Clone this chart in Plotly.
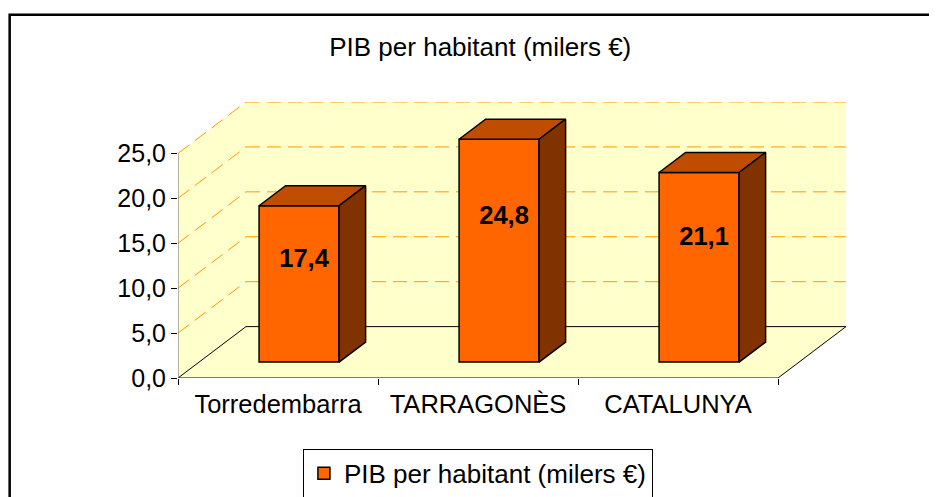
import plotly.graph_objects as go

CATEGORIES = ["Torredembarra", "TARRAGONÈS", "CATALUNYA"]
VALUES = [17.4, 24.8, 21.1]
Y_TICKS = [0, 5, 10, 15, 20, 25]
Y_TICK_TEXT = ["0,0", "5,0", "10,0", "15,0", "20,0", "25,0"]
SERIES_NAME = "PIB per habitant (milers €)"

FONT = "Arial, Liberation Sans, sans-serif"
COLOR_FRONT = "#FF6600"
COLOR_TOP = "#C04C00"
COLOR_SIDE = "#803300"
COLOR_WALL = "#FFFFCC"
COLOR_GRID = "#FF9900"

# depth of the 3D box, in axis units (x: categories, y: values)
DX = 0.34
DY = 5.72
Y_MAX = Y_TICKS[-1]
N = len(CATEGORIES)
BAR_W = 0.4
F_FRONT = 0.31   # bars start at this fraction of depth
F_BACK = 0.70
LABEL_FRAC = 0.65


def fmt(v):
    return f"{v:.1f}".replace(".", ",")


fig = go.Figure()

# walls and floor
shapes = [
    dict(type="rect", x0=DX, x1=N + DX, y0=DY, y1=Y_MAX + DY,
         fillcolor=COLOR_WALL, line_width=0, layer="below"),
    dict(type="path", path=f"M 0 0 L 0 {Y_MAX} L {DX} {Y_MAX + DY} L {DX} {DY} Z",
         fillcolor=COLOR_WALL, line_width=0, layer="below"),
    dict(type="path", path=f"M 0 0 L {N} 0 L {N + DX} {DY} L {DX} {DY} Z",
         fillcolor=COLOR_WALL, line_width=0, layer="below"),
]
for v in Y_TICKS[1:]:
    grid = dict(color=COLOR_GRID, width=1, dash="14px,7px")
    shapes.append(dict(type="line", x0=DX, x1=N + DX, y0=v + DY, y1=v + DY, line=grid, layer="below"))
    shapes.append(dict(type="line", x0=0, x1=DX, y0=v, y1=v + DY, line=grid, layer="below"))
edge = dict(color="black", width=1)
shapes += [
    dict(type="line", x0=DX, x1=N + DX, y0=DY, y1=DY, line=edge, layer="below"),
    dict(type="line", x0=0, x1=DX, y0=0, y1=DY, line=edge, layer="below"),
    dict(type="line", x0=N, x1=N + DX, y0=0, y1=DY, line=edge, layer="below"),
    dict(type="line", x0=0, x1=N, y0=0, y1=0, line=dict(color="black", width=1.2)),
    dict(type="line", x0=0, x1=0, y0=0, y1=Y_MAX, line=dict(color="#808080", width=1.2)),
    # chart frame
    dict(type="rect", xref="paper", yref="paper", x0=-0.252, x1=1.15, y0=-0.5, y1=1.316,
         line=dict(color="black", width=2.5)),
]

# bar front faces
xc = [i + 0.5 + F_FRONT * DX for i in range(N)]
base = F_FRONT * DY
fig.add_trace(go.Bar(
    x=xc, y=VALUES, base=base, width=BAR_W, name=SERIES_NAME,
    marker=dict(color=COLOR_FRONT, line=dict(color="black", width=1.5)),
    hoverinfo="skip",
))

# top and side faces
ddx = (F_BACK - F_FRONT) * DX
ddy = (F_BACK - F_FRONT) * DY
top_x, top_y, side_x, side_y = [], [], [], []
for x, v in zip(xc, VALUES):
    x0, x1 = x - BAR_W / 2, x + BAR_W / 2
    h = base + v
    top_x += [x0, x1, x1 + ddx, x0 + ddx, x0, None]
    top_y += [h, h, h + ddy, h + ddy, h, None]
    side_x += [x1, x1, x1 + ddx, x1 + ddx, x1, None]
    side_y += [base, h, h + ddy, base + ddy, base, None]
fig.add_trace(go.Scatter(x=top_x, y=top_y, mode="lines", fill="toself", fillcolor=COLOR_TOP,
                         line=dict(color="black", width=1.5), showlegend=False, hoverinfo="skip"))
fig.add_trace(go.Scatter(x=side_x, y=side_y, mode="lines", fill="toself", fillcolor=COLOR_SIDE,
                         line=dict(color="black", width=1.5), showlegend=False, hoverinfo="skip"))

# value labels
fig.add_trace(go.Scatter(
    x=[x + 0.025 for x in xc], y=[base + LABEL_FRAC * v for v in VALUES],
    mode="text", text=[fmt(v) for v in VALUES],
    textfont=dict(family=FONT, size=25.5, color="black", weight="bold"),
    showlegend=False, hoverinfo="skip",
))

# the page body adds an 8px offset, margins compensate for it
fig.update_layout(
    width=937, height=497,
    margin=dict(l=170, r=99, t=93.5, b=127, autoexpand=False),
    paper_bgcolor="white", plot_bgcolor="white",
    font=dict(family=FONT, size=25, color="black"),
    title=dict(text=SERIES_NAME, x=0.504, xanchor="center", y=0.9215, yanchor="middle",
               font=dict(family=FONT, size=26, color="black")),
    shapes=shapes,
    showlegend=True,
    legend=dict(orientation="h", x=0.449, xanchor="center", y=-0.257, yanchor="top",
                bordercolor="black", borderwidth=1, font=dict(size=26)),
    xaxis=dict(range=[0, N + DX], showgrid=False, zeroline=False, showline=False,
               tickvals=[i + 0.5 for i in range(N)], ticktext=CATEGORIES, ticks="",
               ticklabelstandoff=8, tickfont=dict(size=25.5),
               minor=dict(tickvals=list(range(N + 1)), ticks="outside", ticklen=6,
                          tickcolor="black", showgrid=False),
               fixedrange=True),
    yaxis=dict(range=[0, Y_MAX + DY], showgrid=False, zeroline=False, showline=False,
               tickvals=Y_TICKS, ticktext=Y_TICK_TEXT, ticks="outside", ticklen=6,
               tickcolor="black", tickfont=dict(size=25), fixedrange=True),
)

fig.write_html("out.html")
